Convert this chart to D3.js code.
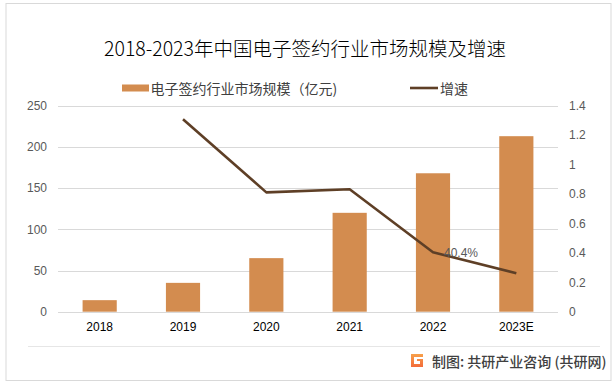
<!DOCTYPE html>
<html><head><meta charset="utf-8">
<script src="https://cdn.jsdelivr.net/npm/d3@7"></script>
<style>
html,body{margin:0;padding:0;background:#fff;}
svg{display:block;}
text{font-family:"Noto Sans CJK SC","Noto Sans",sans-serif;}
</style></head>
<body>
<svg id="chart" width="616" height="387"></svg>
<script>
const categories = ["2018","2019","2020","2021","2022","2023E"];
const marketSize = [14, 35, 65, 120, 168, 213];
const growth = [null, 1.308, 0.811, 0.832, 0.404, 0.261];
const leftTicks = [0, 50, 100, 150, 200, 250];
const rightTicks = [0, 0.2, 0.4, 0.6, 0.8, 1, 1.2, 1.4];
const titleText = "2018-2023年中国电子签约行业市场规模及增速";
const legendBar = "电子签约行业市场规模（亿元)";
const legendLine = "增速";
const labelText = "40.4%";
const sourceText = "制图: 共研产业咨询 (共研网)";

const svg = d3.select("#chart");
const plot = {left: 58, right: 558, top: 105.7, bottom: 311.7};

svg.append("rect").attr("x",6).attr("y",3.5).attr("width",605).attr("height",377)
  .attr("fill","#fff").attr("stroke","#d9d9d9").attr("stroke-width",1);

const x = d3.scaleBand().domain(categories).range([plot.left, plot.right]).paddingInner(0.59).paddingOuter(0.295);
const yL = d3.scaleLinear().domain([0,250]).range([plot.bottom, plot.top]);
const yR = d3.scaleLinear().domain([0,1.4]).range([plot.bottom, plot.top]);

svg.append("g").selectAll("line").data(leftTicks).join("line")
  .attr("x1",plot.left).attr("x2",plot.right)
  .attr("y1",d=>Math.round(yL(d))+0.5).attr("y2",d=>Math.round(yL(d))+0.5)
  .attr("stroke","#d9d9d9").attr("stroke-width",1);

const axL = d3.axisLeft(yL).tickValues(leftTicks).tickSize(0).tickPadding(0);
const gL = svg.append("g").attr("transform",`translate(47,0)`).call(axL);
gL.select(".domain").remove();
gL.selectAll("text").attr("fill","#595959").style("font-size","12px").style("font-family","'Liberation Sans',Arial,sans-serif");

const axR = d3.axisRight(yR).tickValues(rightTicks).tickSize(0).tickPadding(0).tickFormat(d=>d3.format("")(+d.toFixed(1)));
const gR = svg.append("g").attr("transform",`translate(569,0)`).call(axR);
gR.select(".domain").remove();
gR.selectAll("text").attr("fill","#595959").style("font-size","12px").style("font-family","'Liberation Sans',Arial,sans-serif");

const axB = d3.axisBottom(x).tickSize(0).tickPadding(0);
const gB = svg.append("g").attr("transform",`translate(0,${plot.bottom+11})`).call(axB);
gB.select(".domain").remove();
gB.selectAll("text").attr("fill","#000").style("font-size","12px").style("font-family","'Liberation Sans',Arial,sans-serif");

svg.append("g").selectAll("rect").data(categories).join("rect")
  .attr("x",d=>x(d)).attr("width",x.bandwidth())
  .attr("y",(d,i)=>yL(marketSize[i])).attr("height",(d,i)=>plot.bottom - yL(marketSize[i]))
  .attr("fill","#d38c4f");

const lineData = categories.map((c,i)=>({c, v: growth[i]})).filter(d=>d.v!=null);
const line = d3.line().x(d=>x(d.c)+x.bandwidth()/2).y(d=>yR(d.v));
svg.append("path").datum(lineData).attr("d",line)
  .attr("fill","none").attr("stroke","#5e3f26").attr("stroke-width",2.6).attr("stroke-linejoin","round");

const lp = lineData.find(d=>d.c==="2022");
svg.append("text").attr("x",x(lp.c)+x.bandwidth()/2+11).attr("y",yR(lp.v)+5)
  .attr("fill","#595959").style("font-size","12px").style("font-family","'Liberation Sans',Arial,sans-serif")
  .text(labelText);

svg.append("text").attr("x",305).attr("y",56).attr("text-anchor","middle")
  .attr("fill","#000").style("font-size","19.5px").style("font-weight","300").text(titleText);

svg.append("rect").attr("x",122).attr("y",84.5).attr("width",27).attr("height",7).attr("fill","#d38c4f");
svg.append("text").attr("x",150.5).attr("y",93.5).attr("fill","#404040").style("font-size","14px").text(legendBar);
svg.append("line").attr("x1",410).attr("x2",438).attr("y1",88).attr("y2",88).attr("stroke","#5e3f26").attr("stroke-width",2.6);
svg.append("text").attr("x",440).attr("y",93.5).attr("fill","#404040").style("font-size","14px").text(legendLine);

svg.append("line").attr("x1",28).attr("x2",600).attr("y1",346.5).attr("y2",346.5).attr("stroke","#e6e6e6");

const grad = svg.append("defs").append("linearGradient").attr("id","lgG").attr("x1","0").attr("y1","0").attr("x2","0").attr("y2","1");
grad.append("stop").attr("offset","0").attr("stop-color","#f7a04a");
grad.append("stop").attr("offset","1").attr("stop-color","#f36c3a");
svg.append("g").attr("transform","translate(411,354)")
  .append("path").attr("d","M0,0 H12 V3 H3 V10 H9 V7 H6 V5 H12 V13 H0 Z").attr("fill","url(#lgG)");
svg.append("text").attr("x",432).attr("y",367).attr("fill","#404040").style("font-size","14px").style("font-weight","500").text(sourceText);
</script>
</body></html>
